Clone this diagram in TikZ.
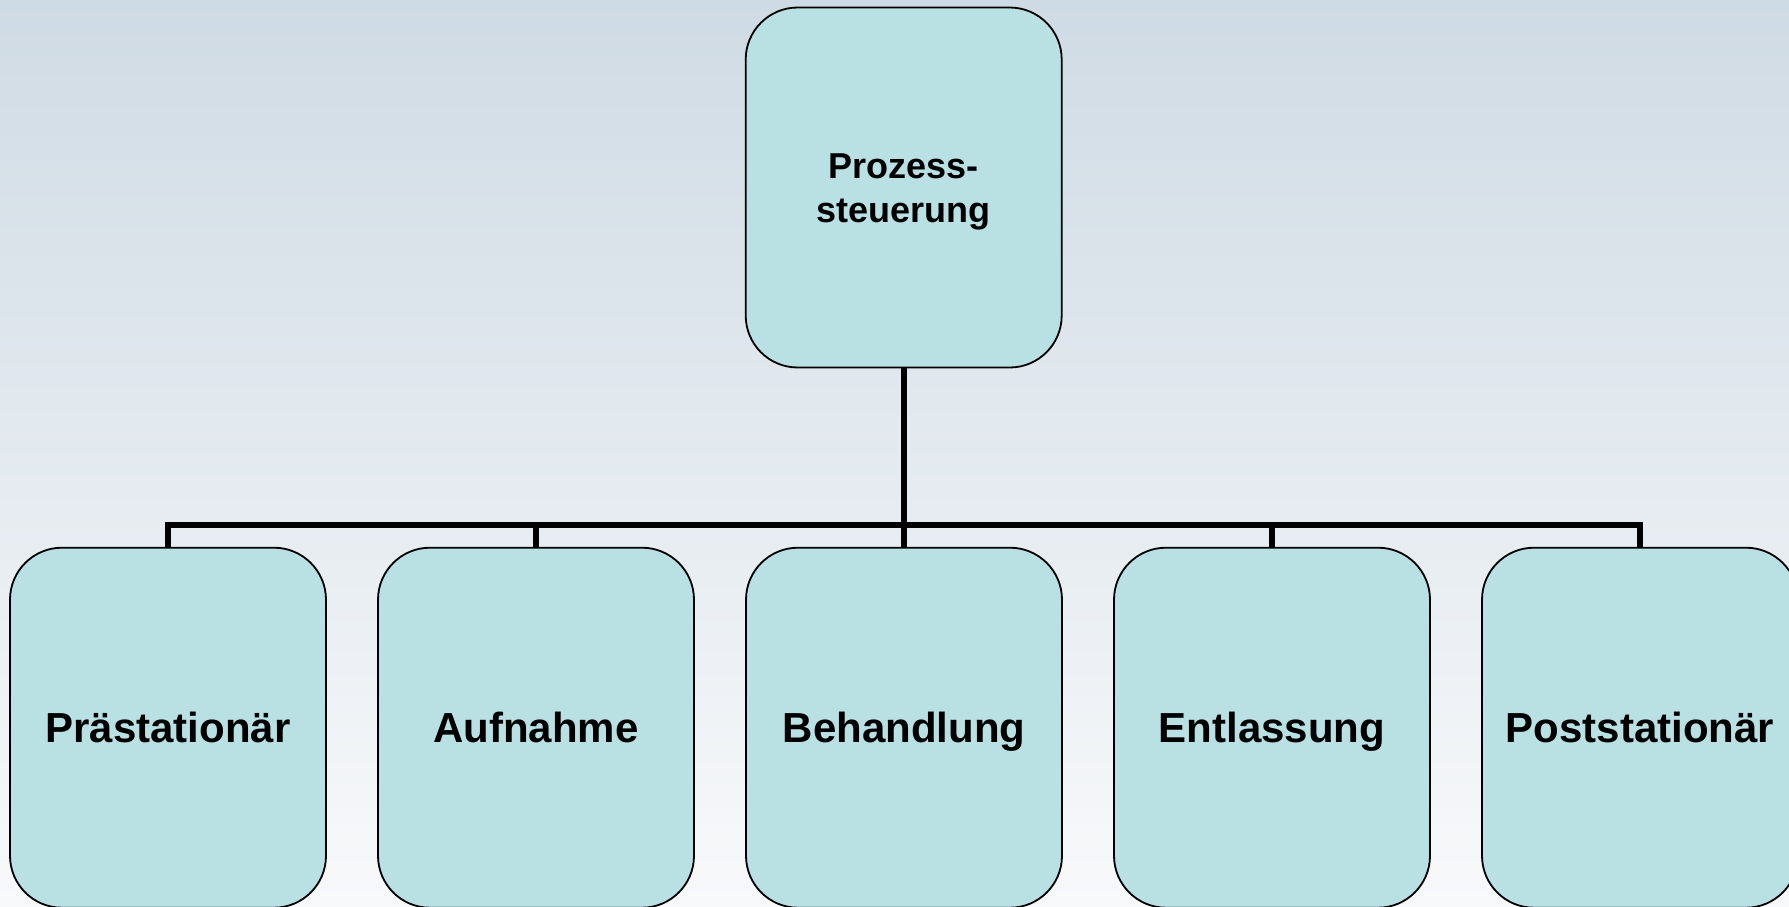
\documentclass[tikz,border=0pt]{standalone}
\usepackage{fontspec}
\setmainfont{Liberation Sans}
\definecolor{boxfill}{RGB}{185,224,227}
\definecolor{bgtop}{RGB}{207,219,228}
\definecolor{bgbottom}{RGB}{248,249,251}
\tikzset{
  phase/.style={draw=black, line width=1.8pt, fill=boxfill, rounded corners=52pt,
    minimum width=316pt, minimum height=360pt, inner sep=0pt,
    font=\fontsize{42}{48}\selectfont\bfseries, text height=30pt, text depth=0pt},
  headbox/.style={draw=black, line width=1.8pt, fill=boxfill, rounded corners=52pt,
    minimum width=316pt, minimum height=360pt, inner sep=0pt, align=center,
    font=\fontsize{36}{44.4}\selectfont\bfseries},
  link/.style={line width=6pt, draw=black}
}
\begin{document}
\begin{tikzpicture}[x=1pt, y=-1pt]
  % canvas and background gradient
  \useasboundingbox (0,0) rectangle (1789,906);
  \clip (0,0) rectangle (1789,906);
  \shade[top color=bgtop, bottom color=bgbottom] (0,0) rectangle (1789,906);

  % steering box and the five process phases
  \node[headbox] (head) at (903.7,187.5) {\rule{0pt}{33.6pt}Prozess-\\steuerung};
  \node[phase] (p1) at (168,727.7) {Prästationär};
  \node[phase] (p2) at (536,727.7) {Aufnahme};
  \node[phase] (p3) at (904,727.7) {Behandlung};
  \node[phase] (p4) at (1272,727.7) {Entlassung};
  \node[phase] (p5) at (1640,727.7) {Poststationär};

  % junction on the horizontal bus
  \coordinate (bus) at (904,524.5);

  % connectors
  \draw[link] (head.south) -- (head.south |- bus);
  \draw[link, line join=miter] (p1.north) -- (p1.north |- bus) -- (p5.north |- bus) -- (p5.north);
  \draw[link] (p2.north) -- (p2.north |- bus);
  \draw[link] (p3.north) -- (p3.north |- bus);
  \draw[link] (p4.north) -- (p4.north |- bus);
\end{tikzpicture}
\end{document}
